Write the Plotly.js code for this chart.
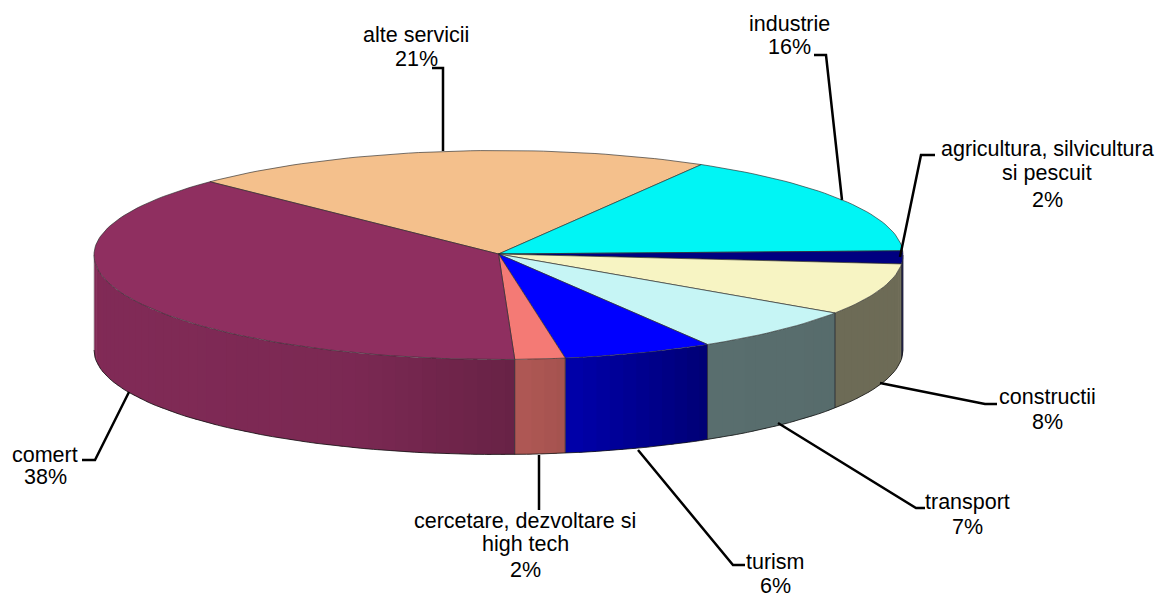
<!DOCTYPE html>
<html>
<head>
<meta charset="utf-8">
<script src="https://cdn.plot.ly/plotly-3.0.1.min.js"></script>
<style>html,body{margin:0;padding:0;background:#fff;overflow:hidden}</style>
</head>
<body>
<div id="chart" style="width:1159px;height:593px"></div>
<script>
// --- data ---
const categories = ['alte servicii','industrie','agricultura, silvicultura<br>si pescuit','constructii','transport','turism','cercetare, dezvoltare si<br>high tech','comert'];
const values = [21,16,2,8,7,6,2,38];

// --- styles ---
const topColors = [[244,192,140],[0,245,245],[0,0,128],[247,244,195],[198,245,245],[0,0,255],[244,122,117],[143,47,96]];

// --- layout geometry (page pixels) ---
const geo = {cx:498.5, cy:255, rx:404.5, ry:104.5, depth:95, start:135.5};
const labelX = [416,789,1047,1047,967,775,525,45];
const labelLineY = [[35,59],[24,47],[149,173,200],[397,422],[502,527],[562,586],[521,544,570],[455,477]];
const leaderX = [[443,443,432],[842,826,814],[900,921,935],[880,985,997],[778,916,925],[638,733,745],[539,539],[129,95,82]];
const leaderY = [[151,68,68],[200,55,55],[257,155,155],[383,404,404],[423,508,508],[450,565,565],[455,510],[392,460,460]];
const shadeX = [94,350,515,566,708,834,903];
const shadeK = [.9,.86,.72,.67,.45,.44,.44];

const rad = d => d*Math.PI/180;
const px = a => geo.cx + geo.rx*Math.cos(rad(a));
const py = (a,off) => geo.cy - geo.ry*Math.sin(rad(a)) + (off||0);
function shade(x){
  for(let i=1;i<shadeX.length;i++) if(x<=shadeX[i]){
    const t=(x-shadeX[i-1])/(shadeX[i]-shadeX[i-1]);
    return shadeK[i-1]+t*(shadeK[i]-shadeK[i-1]);
  }
  return shadeK[shadeK.length-1];
}
const total = values.reduce((s,v)=>s+v,0);
const bounds=[geo.start];
values.forEach(v=>bounds.push(bounds[bounds.length-1]-v/total*360));

const traces=[];
const poly=(xs,ys,fill,line,name)=>traces.push({type:'scatter',mode:'lines',x:xs,y:ys,fill:'toself',fillcolor:fill,
  line:line||{width:0,color:fill},hoverinfo:name?'text':'skip',text:name||'',showlegend:false});

// side walls: visible part is the front half of the ellipse (-180..0 degrees)
values.forEach((v,i)=>{
  const h=Math.min(bounds[i],0), l=Math.max(bounds[i+1],-180);
  if(h<=l) return;
  const n=Math.max(1,Math.ceil((h-l)/2));
  for(let k=0;k<n;k++){
    const b=h-(h-l)*k/n, e=h-(h-l)*(k+1)/n;
    const bo=Math.min(h,b+0.6);
    const kk=shade((px(b)+px(e))/2);
    const c=topColors[i].map(q=>Math.round(q*kk));
    const col=`rgb(${c.join(',')})`;
    poly([px(bo),px(e),px(e),px(bo),px(bo)],[py(bo),py(e),py(e,geo.depth),py(bo,geo.depth),py(bo)],col);
  }
});

// wall separators and silhouette
bounds.forEach(a=>{
  if(a<0 && a>-180) traces.push({type:'scatter',mode:'lines',x:[px(a),px(a)],y:[py(a),py(a,geo.depth)],
    line:{color:'rgba(30,30,40,0.75)',width:1},hoverinfo:'skip',showlegend:false});
});
const arcX=[],arcY=[];
for(let a=0;a>=-180;a-=2){arcX.push(px(a));arcY.push(py(a,geo.depth));}
traces.push({type:'scatter',mode:'lines',x:arcX,y:arcY,line:{color:'rgba(20,20,20,0.8)',width:1},hoverinfo:'skip',showlegend:false});
traces.push({type:'scatter',mode:'lines',x:[px(0),px(0)],y:[py(0),py(0,geo.depth)],line:{color:'rgba(30,30,50,0.8)',width:1},hoverinfo:'skip',showlegend:false});
traces.push({type:'scatter',mode:'lines',x:[px(180),px(180)],y:[py(180),py(180,geo.depth)],line:{color:'rgba(150,150,150,0.6)',width:1},hoverinfo:'skip',showlegend:false});

// top faces
values.forEach((v,i)=>{
  const xs=[geo.cx], ys=[geo.cy-1];
  const n=Math.max(2,Math.ceil((bounds[i]-bounds[i+1])/1.5));
  for(let k=0;k<=n;k++){
    const a=bounds[i]-(bounds[i]-bounds[i+1])*k/n;
    xs.push(px(a)); ys.push(py(a));
  }
  xs.push(geo.cx); ys.push(geo.cy-1);
  poly(xs,ys,`rgb(${topColors[i].join(',')})`,{color:'rgba(45,45,45,0.65)',width:1},
    categories[i].replace('<br>',' ')+': '+v+'%');
});

// leader lines
leaderX.forEach((xs,i)=>traces.push({type:'scatter',mode:'lines',x:xs,y:leaderY[i],
  line:{color:'#000',width:2.5},hoverinfo:'skip',showlegend:false}));

// labels: one annotation per text line so that the uneven line spacing is kept
const annotations=[];
categories.forEach((c,i)=>{
  const lines=c.split('<br>').concat([values[i]+'%']);
  lines.forEach((t,j)=>annotations.push({x:labelX[i],y:labelLineY[i][j],xref:'x',yref:'y',showarrow:false,
    text:t,align:'center',xanchor:'center',yanchor:'middle',
    font:{family:'"Liberation Sans",Arial,sans-serif',size:21.5,color:'#000'}}));
});

Plotly.newPlot('chart',traces,{
  width:1159,height:593,autosize:false,showlegend:false,
  margin:{l:0,r:0,t:0,b:0,pad:0},paper_bgcolor:'#fff',plot_bgcolor:'#fff',
  xaxis:{range:[0,1159],visible:false,fixedrange:true},
  yaxis:{range:[593,0],visible:false,fixedrange:true},
  annotations:annotations
},{displayModeBar:false});
</script>
</body>
</html>
